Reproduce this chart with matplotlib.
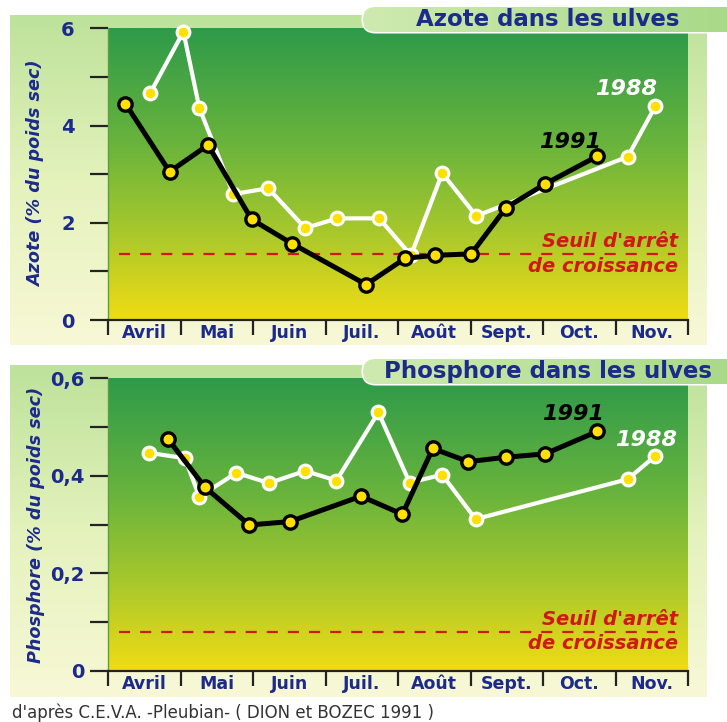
import numpy as np
import matplotlib.pyplot as plt
from matplotlib.colors import LinearSegmentedColormap
from matplotlib.patches import FancyBboxPatch
from matplotlib.ticker import MultipleLocator

plt.rcParams['font.family'] = ['DejaVu Sans']
plt.rcParams['font.weight'] = 'bold'

months = ['Avril', 'Mai', 'Juin', 'Juil.', 'Août', 'Sept.', 'Oct.', 'Nov.']

# x = months elapsed since 1st April
azote_1991_x = [0.24, 0.85, 1.38, 1.98, 2.54, 3.56, 4.10, 4.51, 5.01, 5.49, 6.03, 6.75]
azote_1991 = [4.45, 3.05, 3.60, 2.07, 1.57, 0.73, 1.27, 1.33, 1.36, 2.31, 2.80, 3.37]
azote_1988_x = [0.58, 1.04, 1.26, 1.73, 2.21, 2.72, 3.16, 3.74, 4.18, 4.61, 5.08, 7.17, 7.55]
azote_1988 = [4.66, 5.93, 4.36, 2.59, 2.71, 1.89, 2.09, 2.09, 1.33, 3.02, 2.14, 3.36, 4.40]
seuil_azote = 1.35

phos_1991_x = [0.83, 1.34, 1.95, 2.51, 3.49, 4.06, 4.48, 4.97, 5.49, 6.03, 6.75]
phos_1991 = [0.475, 0.376, 0.299, 0.306, 0.358, 0.321, 0.456, 0.429, 0.438, 0.445, 0.491]
phos_1988_x = [0.57, 1.06, 1.26, 1.77, 2.22, 2.72, 3.15, 3.73, 4.16, 4.61, 5.07, 7.17, 7.55]
phos_1988 = [0.447, 0.436, 0.357, 0.406, 0.385, 0.410, 0.390, 0.530, 0.386, 0.402, 0.311, 0.393, 0.441]
seuil_phos = 0.08

NAVY = '#1c2a8c'
RED = '#d01818'
YEL = '#ffe000'
W, H = 727, 722

plot_cmap = LinearSegmentedColormap.from_list(
    'plot', [(0, '#f0dc14'), (0.3, '#a8c82c'), (0.6, '#6ab43c'), (1, '#2e9a4a')])
panel_cmap = LinearSegmentedColormap.from_list(
    'panel', [(0, '#bde29a'), (0.5, '#e4f2bc'), (1, '#f8f8d6')])
pill_cmap = LinearSegmentedColormap.from_list('pill', ['#cfeab0', '#a6d886'])

fig = plt.figure(figsize=(W / 100, H / 100), dpi=100)
fig.patch.set_facecolor('white')

bg = fig.add_axes([0, 0, 1, 1], zorder=-10)
grad = np.linspace(0, 1, 256).reshape(-1, 1)
for top, bot in [(15, 345), (365, 697)]:
    bg.imshow(grad, extent=[10, 707, bot, top], cmap=panel_cmap, aspect='auto')
bg.set_xlim(0, W)
bg.set_ylim(H, 0)
bg.axis('off')


def px_axes(x0, x1, y0, y1):
    return fig.add_axes([x0 / W, (H - y1) / H, (x1 - x0) / W, (y1 - y0) / H])


def panel(ax, x91, y91, x88, y88, seuil, ymax, yticks, ylabel, fmt, lab91, lab88, ypad):
    ax.imshow(grad, extent=[0, 1, 0, 1], transform=ax.transAxes, origin='lower',
              cmap=plot_cmap, aspect='auto', zorder=0)
    ax.axhline(seuil, 0.019, 0.978, color=RED, lw=1.6, dashes=(5, 4.5), zorder=2)
    ax.plot(x88, y88, color='white', lw=3, marker='o', ms=9.2, mfc=YEL, mec='white',
            mew=2.2, zorder=3, clip_on=False)
    ax.plot(x91, y91, color='black', lw=3.6, marker='o', ms=9.6, mfc=YEL, mec='black',
            mew=2.4, zorder=4, clip_on=False)
    ax.set_xlim(0, 8)
    ax.set_ylim(0, ymax)

    ax.set_xticks(range(9))
    ax.set_xticklabels([])
    ax.set_xticks(np.arange(8) + 0.5, minor=True)
    ax.set_xticklabels(months, minor=True)
    ax.tick_params(axis='x', which='major', length=11, width=1.6, color='#222222')
    ax.tick_params(axis='x', which='minor', length=0, pad=3, labelsize=12.5, labelcolor=NAVY)

    ax.set_yticks(yticks)
    ax.set_yticklabels([fmt(v) for v in yticks])
    ax.yaxis.set_minor_locator(MultipleLocator(yticks[1] / 2))
    ax.tick_params(axis='y', which='both', length=13, width=1.6, color='#222222')
    ax.tick_params(axis='y', which='major', pad=ypad, labelsize=14, labelcolor=NAVY)

    for s in ['top', 'right']:
        ax.spines[s].set_visible(False)
    ax.spines['left'].set_color('#5aa040')
    ax.spines['left'].set_linewidth(1)
    ax.spines['bottom'].set_color('#222222')
    ax.spines['bottom'].set_linewidth(1.6)

    ax.set_ylabel(ylabel, color=NAVY, fontsize=12.7, style='italic', fontweight='bold')
    ax.yaxis.set_label_coords(-0.108, 0.5)

    ax.text(7.86, seuil + ymax * 0.010, "Seuil d'arrêt", color=RED, fontsize=14,
            style='italic', ha='right', va='bottom', zorder=5)
    ax.text(7.86, seuil - ymax * 0.008, 'de croissance', color=RED, fontsize=14,
            style='italic', ha='right', va='top', zorder=5)
    ax.text(lab91[0], lab91[1], '1991', color='black', fontsize=16, style='italic',
            ha='center', va='center', zorder=5)
    ax.text(lab88[0], lab88[1], '1988', color='white', fontsize=16, style='italic',
            ha='center', va='center', zorder=5)


ax1 = px_axes(108, 688, 28.3, 320)
panel(ax1, azote_1991_x, azote_1991, azote_1988_x, azote_1988, seuil_azote, 6,
      [0, 2, 4, 6], 'Azote (% du poids sec)', lambda v: f'{v:g}', (6.37, 3.66), (7.14, 4.75), 11)

ax2 = px_axes(108, 688, 378.3, 670.7)
panel(ax2, phos_1991_x, phos_1991, phos_1988_x, phos_1988, seuil_phos, 0.6,
      [0, 0.2, 0.4, 0.6], 'Phosphore (% du poids sec)',
      lambda v: '0' if v == 0 else f'{v:.1f}'.replace('.', ','), (6.42, 0.527), (7.42, 0.473), 4)

fg = fig.add_axes([0, 0, 1, 1], zorder=10)
fg.set_xlim(0, W)
fg.set_ylim(H, 0)
fg.axis('off')
for y0, title, tx in [(7, 'Azote dans les ulves', 548), (359, 'Phosphore dans les ulves', 548)]:
    pill = FancyBboxPatch((363, y0), 390, 25, boxstyle='round,pad=0,rounding_size=12.5',
                          fc='#b8e098', ec='white', lw=2.2)
    fg.add_patch(pill)
    im = fg.imshow(np.linspace(0, 1, 256).reshape(1, -1), extent=[363, 753, y0 + 25, y0],
                   cmap=pill_cmap, aspect='auto', zorder=1)
    im.set_clip_path(pill)
    fg.text(tx, y0 + 12.5, title, color=NAVY, fontsize=16.5, ha='center', va='center', zorder=3)
fg.set_xlim(0, W)
fg.set_ylim(H, 0)

fig.text(12 / W, 1 - 713 / H, "d'après C.E.V.A. -Pleubian- ( DION et BOZEC 1991 )",
         fontsize=12, fontweight='normal', color='#333333', ha='left', va='center')

fig.savefig('out.png', dpi=100)
